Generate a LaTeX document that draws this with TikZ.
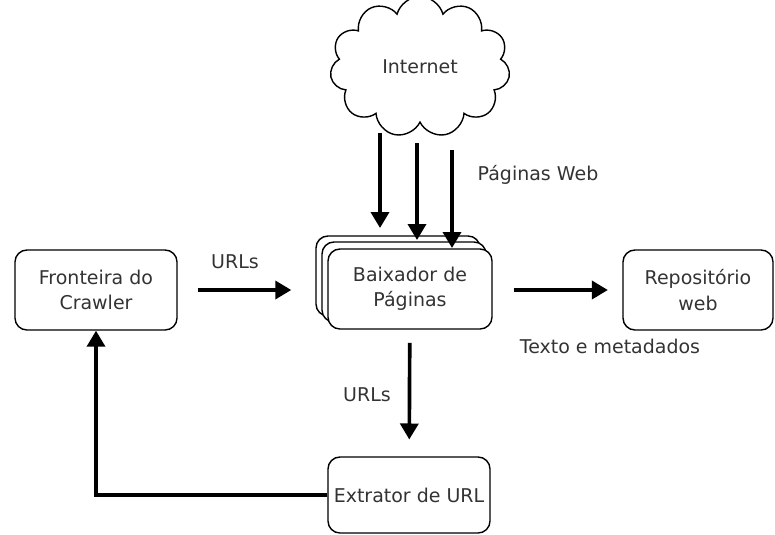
\documentclass[tikz,border=0pt]{standalone}
\usepackage{fontspec}
\setmainfont{DejaVu Sans}
\usetikzlibrary{arrows.meta,shapes.symbols}

\begin{document}
\begin{tikzpicture}[x=0.025cm,y=-0.025cm,>={Triangle[length=0.4cm,width=0.45cm]},
  txt/.style={text=black!80,font=\fontsize{13.5}{18}\selectfont},
  box/.style={draw,rounded corners=0.3cm,fill=white,line width=1pt,align=center,minimum height=2cm,txt},
  flow/.style={->,line width=2.6pt}]
\useasboundingbox (0,0) rectangle (775,534);
\node[cloud,draw,line width=1pt,cloud puffs=11,minimum width=4.5cm,minimum height=2.7cm,txt] (net) at (420,67) {Internet};
\node[box,minimum width=4.05cm] (front) at (96,290) {Fronteira do\\Crawler};
\node[box,minimum width=4.1cm] (bx2) at (398,276) {};
\node[box,minimum width=4.1cm] (bx1) at (404,282) {};
\node[box,minimum width=4.1cm] (baix) at (410,289) {Baixador de\\P\'aginas};
\node[box,minimum width=3.75cm] (repo) at (698,290) {Reposit\'orio\\web};
\node[box,minimum width=4.05cm,minimum height=1.9cm] (extr) at (409,495) {Extrator de URL};
\node[txt] (lweb) at (538,175) {P\'aginas Web};
\node[txt] (lurl1) at (235,262) {URLs};
\node[txt] (ltxt) at (610,346) {Texto e metadados};
\node[txt] (lurl2) at (367,395) {URLs};
\coordinate (a1) at (380,133); \coordinate (b1) at (380,228);
\coordinate (a2) at (417,143); \coordinate (b2) at (417,240);
\coordinate (a3) at (452,150); \coordinate (b3) at (452,248);
\draw[flow] (a1) -- (b1); \draw[flow] (a2) -- (b2); \draw[flow] (a3) -- (b3);
\draw[flow,shorten <=0.5cm,shorten >=0.9cm] (front) -- (baix.west |- front);
\draw[flow,shorten <=0.52cm,shorten >=0.36cm] (baix.east |- repo) -- (repo);
\draw[flow,shorten <=0.33cm,shorten >=0.42cm] (baix) -- (extr);
\draw[flow] (extr.west) -| (front.south);
\end{tikzpicture}
\end{document}
